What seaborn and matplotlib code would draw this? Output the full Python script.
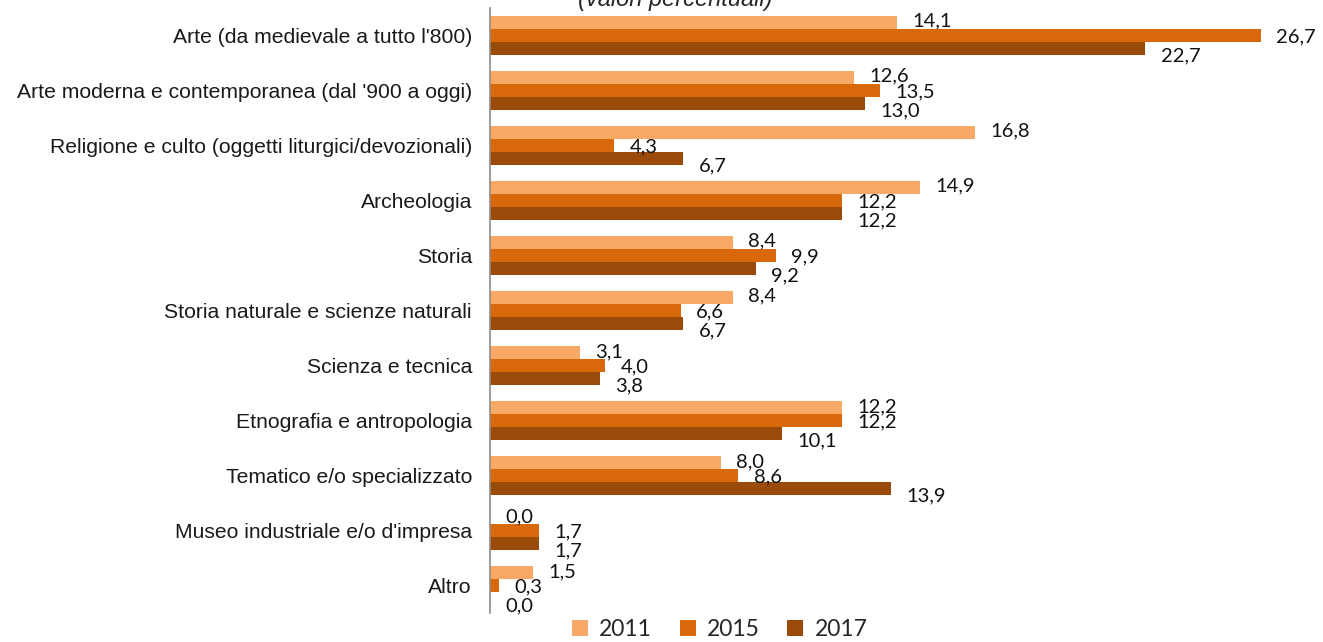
import pandas as pd
import matplotlib
matplotlib.use("Agg")
import matplotlib.pyplot as plt
import seaborn as sns
from matplotlib.patches import Patch

# categorie e valori percentuali per anno
categories = [
    "Arte (da medievale a tutto l'800)",
    "Arte moderna e contemporanea (dal '900 a oggi)",
    "Religione e culto (oggetti liturgici/devozionali)",
    "Archeologia",
    "Storia",
    "Storia naturale e scienze naturali",
    "Scienza e tecnica",
    "Etnografia e antropologia",
    "Tematico e/o specializzato",
    "Museo industriale e/o d'impresa",
    "Altro",
]
years = ["2011", "2015", "2017"]
values_2011 = [14.1, 12.6, 16.8, 14.9, 8.4, 8.4, 3.1, 12.2, 8.0, 0.0, 1.5]
values_2015 = [26.7, 13.5, 4.3, 12.2, 9.9, 6.6, 4.0, 12.2, 8.6, 1.7, 0.3]
values_2017 = [22.7, 13.0, 6.7, 12.2, 9.2, 6.7, 3.8, 10.1, 13.9, 1.7, 0.0]
colors = ["#F9A966", "#D9680B", "#9A4A09"]

df = pd.DataFrame({
    "categoria": categories * 3,
    "anno": [y for y in years for _ in categories],
    "valore": values_2011 + values_2015 + values_2017,
})

sns.set_style("white")

fig = plt.figure(figsize=(13.23, 6.42), dpi=100)
ax = fig.add_axes([490 / 1323, 0.0444, 1 - 490 / 1323, 0.9431])

sns.barplot(data=df, x="valore", y="categoria", hue="anno", order=categories,
            hue_order=years, palette=colors, orient="h", width=0.71,
            saturation=1, edgecolor="none", legend=False, ax=ax)

ax.set_xlim(0, 28.85)
ax.set_xlabel("")
ax.set_ylabel("")
ax.set_xticks([])
for s in ["top", "right", "bottom"]:
    ax.spines[s].set_visible(False)
ax.spines["left"].set_color("#8C8C8C")
ax.spines["left"].set_linewidth(1.2)
ax.tick_params(axis="y", length=0, pad=13)
for lab in ax.get_yticklabels():
    lab.set_fontfamily("Liberation Sans")
    lab.set_fontsize(15.2)
    lab.set_color("#1a1a1a")

# etichette dei valori (virgola decimale)
dy = [1, -1, -5]
for k, cont in enumerate(ax.containers):
    for bar in cont:
        w = bar.get_width()
        yc = bar.get_y() + bar.get_height() / 2
        ax.annotate(f"{w:.1f}".replace(".", ","), (w, yc), xytext=(11, dy[k]),
                    textcoords="offset points", va="center", ha="left",
                    fontsize=14.5, family="Lato", color="#111111")

fig.text(675 / 1323, 1 - 6 / 642, "(valori percentuali)", ha="center",
         va="baseline", fontsize=17, style="italic", family="Liberation Sans")

handles = [Patch(facecolor=c, edgecolor="none") for c in colors]
fig.legend(handles, years, loc="center", bbox_to_anchor=(0.544, 0.02), ncol=3,
           frameon=False, handlelength=0.7, handleheight=0.7, handletextpad=0.5,
           columnspacing=1.2, prop={"family": "Lato", "size": 16.5})

fig.savefig("out.png", dpi=100)
